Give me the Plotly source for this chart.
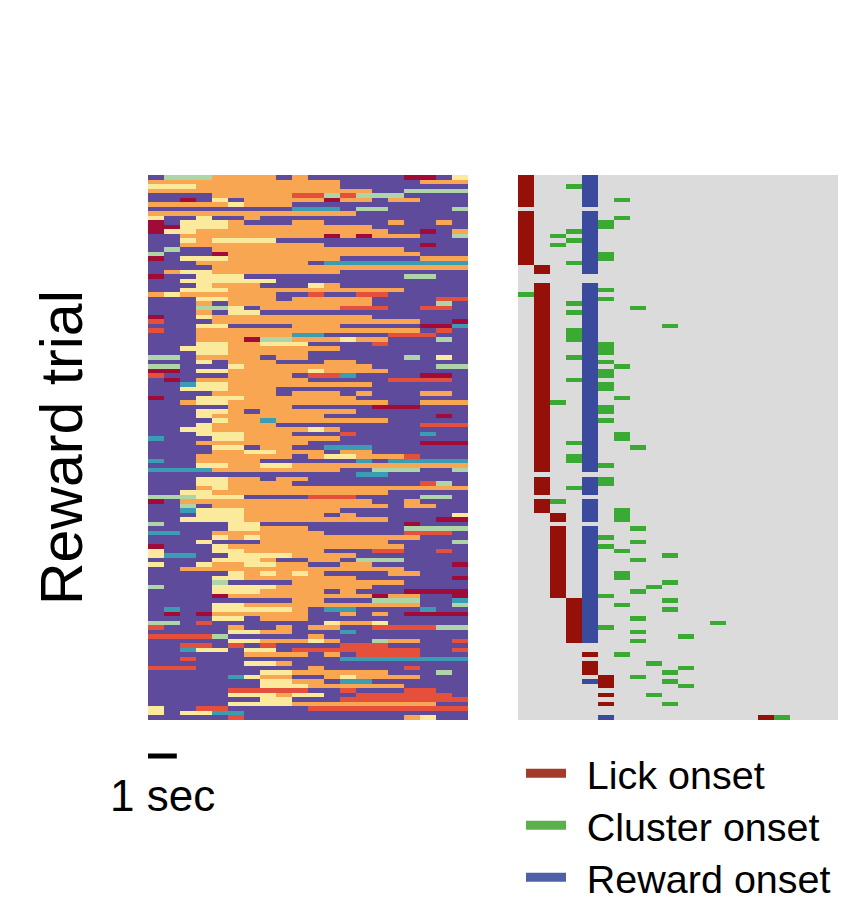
import plotly.graph_objects as go

# Left heatmap: run-length coded rows, 20 time bins, top to bottom.
# P purple, O orange, Y yellow, G mint, T teal, R red, D crimson
left_rows = [
"P1 G3 O4 P1 O1 P6 D2 P1 Y1","O12 P5 O3","Y3 O9 P8","O14 P2 G4","P4 O5 R2 G1 R1 G3 P4",
"P2 D1 P1 Y1 P1 O5 D1 O2 P1 O2 P3","O5 Y1 O3 P11","P9 T3 P1 G2 P4 G1","O13 P7","Y1 P2 Y1 P2 O1 P13",
"D1 P1 Y3 O1 P3 O2 P4 O1 P2 O1 P1","D2 Y3 O9 P6","D1 Y2 O12 P2 D1 P1 O1","P2 O9 D1 O1 D1 O3 P2 G1","P2 Y1 O1 Y4 P12",
"P2 O9 P6 D1 P2","P1 G1 P2 O12 P4","G1 P3 D1 O12 P3","D1 P1 Y3 O7 P5 O3","P3 O7 P1 T9",
"P4 O16","P1 O1 Y2 O8 P8","D1 P2 Y3 P10 G2 P2","P2 Y6 P12","P3 Y1 O3 P3 Y1 O1 P8",
"P2 Y3 O11 P4","O1 Y1 O6 P2 R1 P2 R2 P5","P3 Y2 O3 P1 O5 P4 R2","P3 O1 P1 O9 P4 G1 P1","P3 G2 Y1 P1 O5 R3 P2 R2 P1",
"P3 O1 P1 Y2 P13","D1 P2 Y1 O10 P6","R1 P2 P1 O13 P2 D1","P3 Y2 P4 O3 P5 D2 T1","R1 P2 O14 P1 R1 P1",
"P3 O6 T2 P4 R3 P2","P3 O3 D1 G2 O3 Y1 O2 P3 G1 P1","P3 Y2 O2 Y3 P4 R1 P5","P2 Y3 O7 P8","P3 Y2 O5 P10",
"G2 P1 O4 P1 O2 P6 G1 P1 Y1 P1","P3 Y1 P1 O3 P3 O2 P7","G2 P3 Y1 O8 P4 G2","D2 P1 Y2 O5 Y1 O4 P5","R1 P2 P2 O4 P1 R2 T1 P4 D2 P1",
"P1 D1 P1 O7 P5 R4 P1","P2 T1 Y2 O9 P6","P2 Y3 O3 P12","P4 O4 P1 O3 P1 O1 P3 O2 P1","D1 P2 Y3 O7 P4 P3",
"P2 O1 Y2 O10 P2 O3","P5 O4 P5 D3 P3","P3 Y2 O1 P1 O6 P7","P3 Y1 O7 P7 D1 P1","P4 Y1 O2 T1 O7 P5",
"P3 Y1 O4 P9 R3","P2 Y2 O6 Y1 O1 P8","P3 Y3 O3 P3 R1 P4 T1 P2","T1 P2 P1 Y2 O6 P8","P3 O7 P7 D3",
"P4 Y2 P1 O2 P2 T3 P6","P4 O2 Y2 O3 P1 O2 P6","P3 O6 P1 O1 Y2 O3 R1 P3","T1 P2 O4 P6 T1 P1 T5","P3 Y2 O2 Y2 O11",
"T4 O8 P2 G3 P2 G1","P13 T2 P5","P3 Y2 O2 P1 O2 P10","P3 Y2 O4 P8 R1 G1 P1","P3 O1 Y1 O15",
"P2 Y2 O11 P5","G3 Y3 P4 R3 P4 G2 P1","D1 P1 O12 P2 O1 P3","P2 G1 P1 O11 P1 O2 P2","P2 T1 Y3 O6 P8",
"P3 Y3 O5 P1 O1 P6 Y1","P2 Y4 O9 P3 D2","G1 P4 Y2 P9 D1 P3","P5 Y2 O3 P6 G4","T2 P2 O7 P5 R3 P1",
"P4 Y1 O1 Y1 O10 P3","P3 Y1 P3 O8 P4 G1","D1 P3 Y1 O11 P4","Y1 P3 Y2 O5 P3 R2 P2 R1 P1","Y1 T2 P2 Y4 O4 P7",
"P4 Y3 O1 P2 O2 P1 G3 P4","Y1 P2 Y1 O2 Y2 O2 P2 O2 P5 D1","P2 O14 P4","P5 Y1 O1 Y1 O1 Y1 O1 P4 O2 P3","P4 Y2 O7 P6 D1",
"P4 G1 P4 O7 P4","G1 P3 Y4 O6 P6","P4 Y3 O4 P1 O1 P3 D4","P4 D1 O9 D1 O2 P2 D1","P9 O2 P3 G3 P2 T1",
"P4 Y2 O11 P2 G1","P1 T1 P2 Y5 O1 P1 T2 P4 T1 P2","P1 D1 P1 D1 O6 P2 O1 P1 O1 P1 D4","P4 Y2 P1 O3 P10","G2 P1 R1 P7 Y1 O2 Y1 P5",
"R1 P4 O1 P2 O1 P1 O2 P2 R4 G2","P5 Y2 O2 P3 T1 P7","R4 G1 P5 O1 P9","P5 Y2 O3 Y1 O1 P2 G1 O2 P2 R1","P2 R2 P1 R1 P1 R1 P4 R3 P5",
"P2 T1 Y2 P1 Y2 P1 R8 P2 R1","P6 O4 P1 O1 P1 R4 P3","P2 R1 P9 T8","P6 Y2 O1 P11","R3 P7 O1 P5 R1 P3",
"P7 Y2 O6 P3 G1 P1","P5 T1 Y1 O2 P2 O1 Y1 O4 P3","P7 Y2 O2 P1 T2 P6","P7 Y3 O6 P4","P5 R5 P2 R1 P3 R2 P2",
"P5 Y3 O1 Y2 P2 R6 P1","P7 Y2 P3 R8","P5 Y4 O9 P2","Y1 P2 R2 P5 R10","Y1 P1 Y2 T2 P14",
"P5 R1 P10 O1 Y1 P2",
]
left_codes = {"P": 0, "O": 1, "Y": 2, "G": 3, "T": 4, "R": 5, "D": 6}
left_colors = ["#5F4B9B", "#F8A652", "#FBEA9C", "#AED5A8", "#3B9DB4", "#E5503C", "#A00B38"]

# Right heatmap: events per trial, as {event column: [trial rows]}
lick_onset = {
    0: [0,1,2,3,4,5,6] + list(range(8,20)),
    1: [20,21] + list(range(24,66)) + [67,68,69,70,72,73,74],
    2: [75,76] + list(range(78,94)),
    3: list(range(94,104)),
    4: [106,108,109,110],
    5: [111,112,113,115,117],
    15: [120],
}
reward_onset = {
    4: [0,1,2,3,4,5,6] + list(range(8,22)) + list(range(24,66)) + [67,68,69,70,72,73,74,75,76]
       + list(range(78,104)) + [112],
    5: [120],
}
cluster_onset = {
    0: [26],
    2: [13,15,50,72],
    3: [2,12,14,19,28,30,34,35,36,40,45,59,62,63,69],
    5: [10,11,17,18,25,27,37,38,39,41,43,44,46,47,51,52,54,64,67,68,80,82,93,100],
    6: [5,9,42,49,57,58,74,75,76,83,88,89,95,106],
    7: [29,60,78,81,85,92,98,101,103,111],
    8: [91,108,115],
    9: [33,84,90,94,96,110,112,117],
    10: [102,109,113],
    12: [99],
    16: [120],
}
right_colors = ["#DBDBDB", "#951008", "#3AAA35", "#3A4A9C"]

n_bins = 20
n_cols_right = 20
legend_names = ["Lick onset", "Cluster onset", "Reward onset"]
legend_colors = ["#A33A2A", "#5CB04C", "#5060A8"]
legend_ids = ["legend", "legend2", "legend3"]
legend_tops = [741, 793, 845]


def decode(row):
    out = []
    for tok in row.split():
        out += [left_codes[tok[0]]] * int(tok[1:])
    return (out + [0] * n_bins)[:n_bins]


left_z = [decode(r) for r in left_rows]
n_trials = len(left_z)

right_z = [[0] * n_cols_right for _ in range(n_trials)]
for code, events in ((1, lick_onset), (3, reward_onset), (2, cluster_onset)):
    for col, rows in events.items():
        for r in rows:
            right_z[r][col] = code


def steps(cols):
    n = len(cols)
    scale = []
    for i, c in enumerate(cols):
        scale += [[i / n, c], [(i + 1) / n, c]]
    return scale


fig = go.Figure()
fig.add_trace(go.Heatmap(z=left_z, colorscale=steps(left_colors), zmin=-0.5, zmax=6.5,
                         showscale=False, xaxis="x", yaxis="y", hoverinfo="skip", zsmooth=False))
fig.add_trace(go.Heatmap(z=right_z, colorscale=steps(right_colors), zmin=-0.5, zmax=3.5,
                         showscale=False, xaxis="x2", yaxis="y2", hoverinfo="skip", zsmooth=False))
for name, color, lid in zip(legend_names, legend_colors, legend_ids):
    fig.add_trace(go.Scatter(x=[None], y=[None], mode="lines", name="\u2009\u2009" + name,
                             legend=lid, line=dict(color=color, width=9),
                             xaxis="x2", yaxis="y2", hoverinfo="skip", showlegend=True))

W, H = 864, 916
PX0, PX1, PX2, PX3 = 148, 468, 518, 838
PY0, PY1 = 175, 720
axis = dict(showticklabels=False, ticks="", showgrid=False, zeroline=False, showline=False)
fig.update_layout(
    width=W, height=H, autosize=False,
    margin=dict(l=0, r=0, t=0, b=0, autoexpand=False),
    paper_bgcolor="white", plot_bgcolor="white",
    font=dict(family="Liberation Sans, Arial, sans-serif", color="#000000"),
    xaxis=dict(domain=[PX0 / W, PX1 / W], range=[-0.5, n_bins - 0.5], **axis),
    xaxis2=dict(domain=[PX2 / W, PX3 / W], range=[-0.5, n_cols_right - 0.5], **axis),
    yaxis=dict(domain=[1 - PY1 / H, 1 - PY0 / H], range=[n_trials - 0.5, -0.5], **axis),
    yaxis2=dict(domain=[1 - PY1 / H, 1 - PY0 / H], range=[n_trials - 0.5, -0.5], anchor="x2", **axis),
    showlegend=True,
    annotations=[
        dict(text="Reward trial", textangle=-90, x=62 / W, y=1 - 448 / H, xref="paper", yref="paper",
             showarrow=False, font=dict(size=59), xanchor="center", yanchor="middle"),
        dict(text="1 sec", x=162 / W, y=1 - 795 / H, xref="paper", yref="paper",
             showarrow=False, font=dict(size=44), xanchor="center", yanchor="middle"),
    ],
    shapes=[dict(type="line", xref="x", yref="paper", x0=-0.5, x1=1.3, y0=1 - 756 / H, y1=1 - 756 / H,
                 line=dict(color="#000000", width=5))],
)
for lid, top in zip(legend_ids, legend_tops):
    fig.update_layout({lid: dict(x=521 / W, y=1 - top / H, xanchor="left", yanchor="top", itemwidth=40,
                                 bgcolor="rgba(0,0,0,0)", borderwidth=0, font=dict(size=39.5),
                                 itemclick=False, itemdoubleclick=False)})
fig.write_html("out.html", config={"displayModeBar": False},
               post_script="document.body.style.margin='0';document.body.style.overflow='hidden';")
